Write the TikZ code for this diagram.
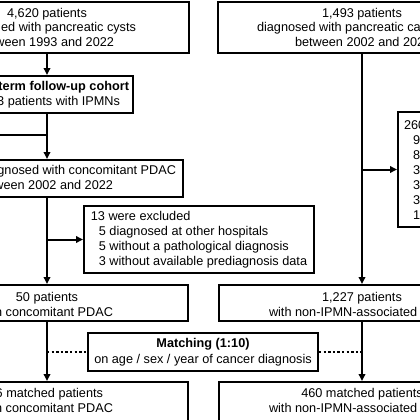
\documentclass[tikz,border=0pt]{standalone}
\usepackage{fontspec}
\setmainfont{Liberation Sans}
\usetikzlibrary{arrows.meta}
\tikzstyle{box}=[draw, rectangle, line width=2pt, inner sep=0pt]
\tikzstyle{txt}=[inner sep=0pt, text height=9pt, text depth=0pt]
\tikzstyle{matchline}=[line width=2pt, dash pattern=on 2.3pt off 2.3pt]

\begin{document}
\begin{tikzpicture}[x=1pt, y=-1pt, line width=2pt, >={Triangle[length=7pt, width=6.5pt]}, font=\fontsize{12.7}{15}\selectfont]
\useasboundingbox (0, 0) rectangle (420, 420);
\clip (0, 0) rectangle (420, 420);
% left column
\node[box, minimum width=284, minimum height=51] at (47, 27.5) (a) {};
\node[box, minimum width=172, minimum height=37] at (47, 94.5) (b) {};
\node[box, minimum width=272, minimum height=37] at (47, 178.5) (e) {};
\node[box, minimum width=282, minimum height=36] at (47, 303) (f) {};
\node[box, minimum width=282, minimum height=48] at (47, 406) (h) {};
\node[txt] at (47, 13) (a1) {4,620 patients};
\node[txt, anchor=east] at (137, 27) (a2) {ed with pancreatic cysts};
\node[txt, anchor=east] at (115, 42) (a3) {ween 1993 and 2022};
\node[txt, anchor=east] at (130, 86) (b1) {\textbf{term follow-up cohort}};
\node[txt, anchor=east] at (121, 100.5) (b2) {3 patients with IPMNs};
\node[txt, anchor=east] at (177, 170) (e1) {gnosed with concomitant PDAC};
\node[txt, anchor=east] at (114, 185) (e2) {ween 2002 and 2022};
\node[txt] at (47, 297) (f1) {50 patients};
\node[txt, anchor=east] at (114, 312) (f2) {n concomitant PDAC};
\node[txt, anchor=east] at (104, 393) (h1) {6 matched patients};
\node[txt, anchor=east] at (114, 408) (h2) {n concomitant PDAC};
% exclusions and matching
\node[box, align=left, inner xsep=6pt, minimum width=230, minimum height=67] at (199, 239.5) (g) {13 were excluded\\
\hspace{8pt}5 diagnosed at other hospitals\\
\hspace{8pt}5 without a pathological diagnosis\\
\hspace{8pt}3 without available prediagnosis data};
\node[box, align=center, minimum width=230, minimum height=38] at (203, 352) (m) {\textbf{Matching (1:10)}\\[1pt]
on age / sex / year of cancer diagnosis};
% right column
\node[box, minimum width=288, minimum height=51] at (362, 27.5) (c) {};
\node[box, minimum width=72, minimum height=115] at (434, 169.5) (d) {};
\node[box, minimum width=286, minimum height=36] at (362, 303) (i) {};
\node[box, minimum width=286, minimum height=48] at (362, 406) (j) {};
\node[txt] at (362, 13) (c1) {1,493 patients};
\node[txt, anchor=west] at (256, 27) (c2) {diagnosed with pancreatic ca};
\node[txt, anchor=west] at (294, 42) (c3) {between 2002 and 202};
\node[inner sep=0pt, align=left, anchor=north west] at (403, 119.5) (d1) {260\\
\hspace{9pt}9\\
\hspace{9pt}8\\
\hspace{9pt}3\\
\hspace{9pt}3\\
\hspace{9pt}3\\
\hspace{9pt}1};
\node[txt] at (362, 297) (i1) {1,227 patients};
\node[txt, anchor=west] at (268, 312) (i2) {with non-IPMN-associated};
\node[txt] at (362, 393) (j1) {460 matched patients};
\node[txt, anchor=west] at (268, 408) (j2) {with non-IPMN-associated};
% connectors
\coordinate (bx) at (-20, 135);
\draw[->] (a) -- (b);
\draw[->] (b) -- (e);
\draw (b.south |- bx) -- (bx);
\draw[->] (e) -- (f);
\draw[->] (e.south |- g.west) -- (g.west);
\draw[->] (f) -- (h);
\draw[matchline] (f.south |- m.west) -- (m.west);
\draw[matchline] (m.east) -- (i.south |- m.east);
\draw[->] (c) -- (i);
\draw[->] (c.south |- d.west) -- (d.west);
\draw[->] (i) -- (j);
\end{tikzpicture}
\end{document}
